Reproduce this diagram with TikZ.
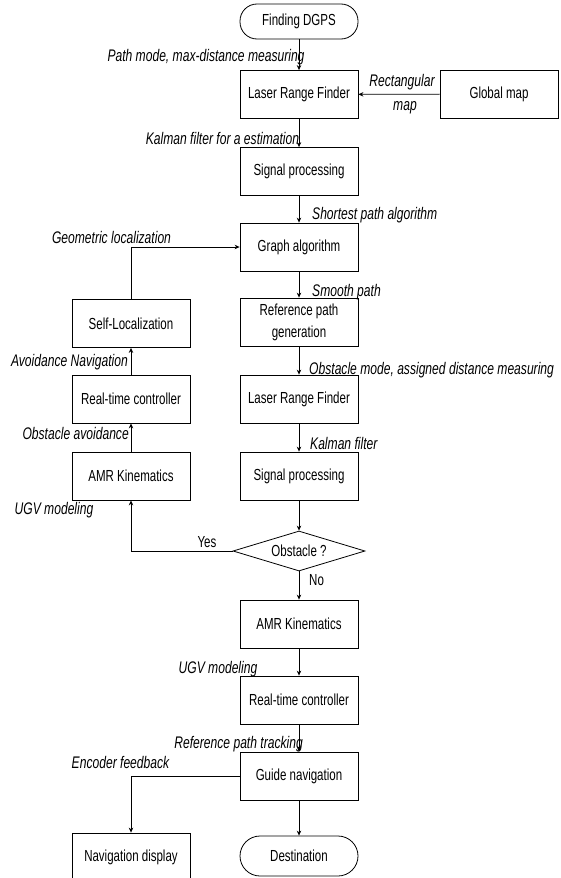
\documentclass[tikz,border=0pt]{standalone}
\usepackage{fontspec}
\setmainfont{Liberation Sans}[FakeStretch=0.72]
\usetikzlibrary{shapes.geometric,arrows.meta}
\begin{document}
\begin{tikzpicture}[x=1pt,y=-1pt,
 box/.style={draw, line width=0.8pt, minimum width=118pt, minimum height=48pt, inner sep=2pt, font=\fontsize{16}{22}\selectfont, align=center},
 term/.style={box, rounded corners=17pt, minimum height=35pt},
 dia/.style={draw, line width=0.8pt, diamond, aspect=3.3, inner sep=0pt, minimum width=132pt, minimum height=40pt, font=\fontsize{16}{18}\selectfont},
 lab/.style={font=\fontsize{16.8}{18}\selectfont\itshape, inner sep=0pt},
 plain/.style={font=\fontsize{16}{18}\selectfont, inner sep=0pt},
 arr/.style={line width=0.8pt, -{Stealth[length=5pt,width=4.5pt]}}]
\useasboundingbox (0,0) rectangle (560,878);
% main column
\node[term] (start) at (299,21.5) {Finding DGPS};
\node[box] (lrf1) at (299,94.5) {Laser Range Finder};
\node[box] (gmap) at (499,94) {Global map};
\node[box] (sp1) at (299,171.5) {Signal processing};
\node[box] (graph) at (299,247) {Graph algorithm};
\node[box] (rpg) at (299,322) {Reference path\\generation};
\node[box] (lrf2) at (299,399) {Laser Range Finder};
\node[box] (sp2) at (299,476) {Signal processing};
\node[dia] (obs) at (299,551) {Obstacle ?};
\node[box] (amr) at (299,624) {AMR Kinematics};
\node[box] (rtc) at (299,700) {Real-time controller};
\node[box] (gn) at (299,776) {Guide navigation};
\node[term, minimum height=40pt, rounded corners=20pt] (dest) at (299,856) {Destination};
% left column
\node[box] (selfloc) at (131,323.5) {Self-Localization};
\node[box] (rtcl) at (131,399) {Real-time controller};
\node[box] (amrl) at (131,476) {AMR Kinematics};
\node[box] (nav) at (131,857) {Navigation display};
% labels
\node[lab] (l1) at (206,57) {Path mode, max-distance measuring};
\node[lab] (l2a) at (402,82) {Rectangular};
\node[lab] (l2b) at (405,108) {map};
\node[lab] (l3) at (222.5,138) {Kalman filter for a estimation};
\node[lab, anchor=west] (l4) at (312,215) {Shortest path algorithm};
\node[lab] (l5) at (111.5,237) {Geometric localization};
\node[lab, anchor=west] (l6) at (312,292) {Smooth path};
\node[lab, anchor=east] (l7) at (128,362) {Avoidance Navigation};
\node[lab, anchor=west] (l8) at (309,370) {Obstacle mode, assigned distance measuring};
\node[lab, anchor=east] (l9) at (129,433) {Obstacle avoidance};
\node[lab, anchor=west] (l10) at (310,443) {Kalman filter};
\node[lab] (l11) at (54,510) {UGV modeling};
\node[plain] (yes) at (207,542) {Yes};
\node[plain, anchor=west] (no) at (309,580) {No};
\node[lab] (l12) at (218,669) {UGV modeling};
\node[lab, anchor=east] (l13) at (303,744) {Reference path tracking};
\node[lab] (l14) at (120.5,762) {Encoder feedback};
% connectors
\draw[arr] (start) -- (lrf1);
\draw[arr] (gmap) -- (lrf1);
\draw[arr] (lrf1) -- (sp1);
\draw[arr] (sp1) -- (graph);
\draw[arr] (graph) -- (rpg);
\draw[arr] (rpg) -- (lrf2);
\draw[arr] (lrf2) -- (sp2);
\draw[arr] (sp2) -- (obs);
\draw[arr] (obs) -- (amr);
\draw[arr] (amr) -- (rtc);
\draw[arr] (rtc) -- (gn);
\draw[arr] (gn) -- (dest);
\draw[arr] (selfloc.north) |- (graph.west);
\draw[arr] (obs.west) -| (amrl.south);
\draw[arr] (amrl) -- (rtcl);
\draw[arr] (rtcl) -- (selfloc);
\draw[arr] (gn.west) -| (nav.north);
\end{tikzpicture}
\end{document}
